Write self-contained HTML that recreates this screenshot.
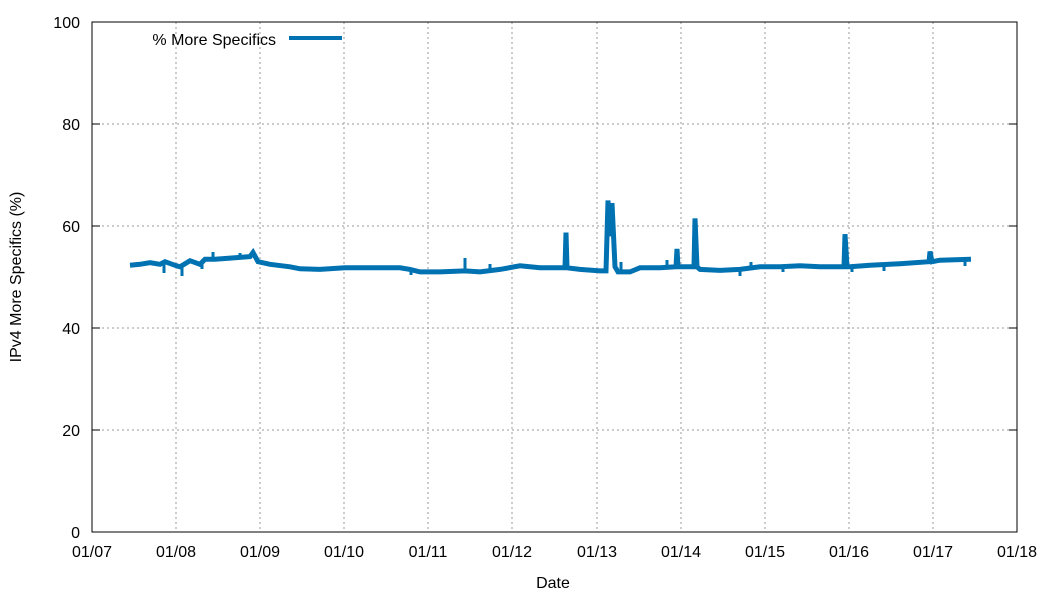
<!DOCTYPE html>
<html><head><meta charset="utf-8"><style>body{margin:0;background:#fff}</style></head><body>
<svg width="1050" height="600" xmlns="http://www.w3.org/2000/svg" font-family="Liberation Sans, Arial, sans-serif" font-size="16">
<rect width="1050" height="600" fill="#fff"/>
<g stroke="#999" stroke-width="1" stroke-dasharray="2,3">
<line x1="92" y1="430" x2="1017" y2="430"/><line x1="92" y1="328" x2="1017" y2="328"/><line x1="92" y1="226" x2="1017" y2="226"/><line x1="92" y1="124" x2="1017" y2="124"/>
<line x1="176" y1="22" x2="176" y2="532"/><line x1="260" y1="22" x2="260" y2="532"/><line x1="344" y1="22" x2="344" y2="532"/><line x1="428" y1="22" x2="428" y2="532"/><line x1="512" y1="22" x2="512" y2="532"/><line x1="597" y1="22" x2="597" y2="532"/><line x1="681" y1="22" x2="681" y2="532"/><line x1="765" y1="22" x2="765" y2="532"/><line x1="849" y1="22" x2="849" y2="532"/><line x1="933" y1="22" x2="933" y2="532"/>
</g>
<rect x="92" y="22" width="925" height="510" fill="none" stroke="#000" stroke-width="1"/>
<g stroke="#000">
<line x1="92" y1="430" x2="100" y2="430"/><line x1="92" y1="328" x2="100" y2="328"/><line x1="92" y1="226" x2="100" y2="226"/><line x1="92" y1="124" x2="100" y2="124"/>
<line x1="1017" y1="430" x2="1009" y2="430"/><line x1="1017" y1="328" x2="1009" y2="328"/><line x1="1017" y1="226" x2="1009" y2="226"/><line x1="1017" y1="124" x2="1009" y2="124"/>
</g>
<g text-anchor="end">
<text x="80" y="538">0</text><text x="80" y="436">20</text><text x="80" y="334">40</text><text x="80" y="232">60</text><text x="80" y="130">80</text><text x="80" y="28">100</text>
</g>
<g text-anchor="middle">
<text x="92" y="557">01/07</text><text x="176" y="557">01/08</text><text x="260" y="557">01/09</text><text x="344" y="557">01/10</text><text x="428" y="557">01/11</text><text x="512" y="557">01/12</text><text x="597" y="557">01/13</text><text x="681" y="557">01/14</text><text x="765" y="557">01/15</text><text x="849" y="557">01/16</text><text x="933" y="557">01/17</text><text x="1017" y="557">01/18</text>
<text x="553" y="588">Date</text>
<text transform="translate(21,277) rotate(-90)">IPv4 More Specifics (%)</text>
</g>
<text x="276" y="45" text-anchor="end">% More Specifics</text>
<line x1="289" y1="38" x2="342" y2="38" stroke="#0072b2" stroke-width="4"/>
<polyline fill="none" stroke="#0072b2" stroke-width="5" stroke-linejoin="miter" points="130,265.3 140,264.3 150,262.7 160,264.3 165,261.7 175,265.3 180,266.8 190,260.7 200,264.3 205,259.2 215,259.2 230,258.1 250,256.6 253,252.5 258,261.7 270,264.3 290,266.8 300,268.8 320,269.4 345,267.8 370,267.8 400,267.8 410,269.4 420,271.9 440,271.9 465,270.9 480,271.9 500,269.4 520,265.8 540,267.8 565,267.8 566,232.6 567,267.8 580,269.4 600,270.9 606,270.9 608,200.5 610,236.2 612,203.1 615,266.8 618,271.9 630,271.9 640,267.8 660,267.8 676,266.8 677,248.9 678,266.8 694,266.8 695,218.4 697,266.8 700,269.4 720,270.4 740,269.4 760,266.8 780,266.8 800,265.8 820,266.8 844,266.8 845,234.2 847,266.8 850,266.8 870,265.3 900,263.7 929,261.7 930,251.5 932,261.7 940,260.2 971,259.2"/>
<g stroke="#0072b2" stroke-width="3">
<line x1="164" y1="262" x2="164" y2="273"/><line x1="182" y1="265" x2="182" y2="276"/><line x1="202" y1="262" x2="202" y2="269"/><line x1="213" y1="258" x2="213" y2="252"/><line x1="240" y1="257" x2="240" y2="253"/><line x1="411" y1="268" x2="411" y2="275"/><line x1="465" y1="271" x2="465" y2="258"/><line x1="490" y1="271" x2="490" y2="264"/><line x1="621" y1="271" x2="621" y2="262"/><line x1="667" y1="267" x2="667" y2="260"/><line x1="740" y1="270" x2="740" y2="276"/><line x1="751" y1="269" x2="751" y2="262"/><line x1="783" y1="267" x2="783" y2="272"/><line x1="852" y1="266" x2="852" y2="272"/><line x1="884" y1="265" x2="884" y2="271"/><line x1="965" y1="259" x2="965" y2="266"/>
</g>
</svg>
</body></html>
